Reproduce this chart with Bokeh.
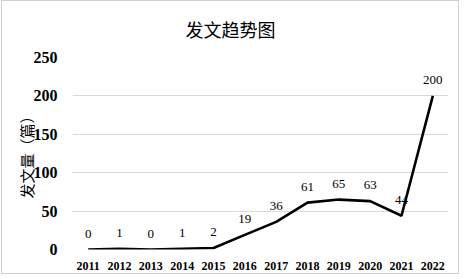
from bokeh.plotting import figure
from bokeh.models import (FactorRange, Range1d, ColumnDataSource, LabelSet,
                          FixedTicker)
from bokeh.embed import file_html
from bokeh.resources import INLINE

years = ["2011", "2012", "2013", "2014", "2015", "2016",
         "2017", "2018", "2019", "2020", "2021", "2022"]
counts = [0, 1, 0, 1, 2, 19, 36, 61, 65, 63, 44, 200]
y_ticks = [0, 50, 100, 150, 200, 250]
title_text = "发文趋势图"
y_label = "发文量（篇）"

SERIF = "'Liberation Serif', 'Times New Roman', serif"
CJK = "'Noto Sans CJK SC', sans-serif"

src = ColumnDataSource(dict(year=years, count=counts,
                            label=[str(c) for c in counts]))

p = figure(width=458, height=274, output_backend="svg", toolbar_location=None,
           x_range=FactorRange(*years, range_padding=0),
           y_range=Range1d(0, 250),
           min_border_left=70, min_border_right=12,
           min_border_top=56, min_border_bottom=26,
           styles={"border": "1.5px solid #d0d0d0", "margin-left": "1px"})

p.title.text = title_text
p.title.align = "left"
p.title.offset = 113
p.title.vertical_align = "top"
p.title.standoff = 28
p.title.text_font = CJK
p.title.text_font_size = "18px"
p.title.text_font_style = "normal"
p.title.text_color = "#000000"

p.outline_line_color = None
p.background_fill_color = "white"
p.border_fill_color = "white"

p.line(x="year", y="count", source=src, line_color="black", line_width=2.6)

labels = LabelSet(x="year", y="count", text="label", source=src,
                  y_offset=12, text_align="center", text_baseline="bottom",
                  text_font=SERIF, text_font_size="13px",
                  text_color="#000000")
p.add_layout(labels)

p.xgrid.grid_line_color = None
p.ygrid.grid_line_color = "#d9d9d9"
p.ygrid.grid_line_width = 1
p.yaxis.ticker = FixedTicker(ticks=y_ticks)

for ax in (p.xaxis[0], p.yaxis[0]):
    ax.axis_line_color = None
    ax.major_tick_line_color = None
    ax.minor_tick_line_color = None
    ax.major_label_text_color = "#000000"
    ax.major_label_text_font = SERIF

p.xaxis.major_label_text_font_size = "12px"
p.xaxis.major_label_text_font_style = "bold"
p.xaxis.major_label_standoff = 6
p.yaxis.major_label_text_font_size = "16px"
p.yaxis.major_label_text_font_style = "bold"
p.yaxis.major_label_standoff = 9
p.yaxis.axis_label = y_label
p.yaxis.axis_label_text_font = CJK
p.yaxis.axis_label_text_font_size = "15px"
p.yaxis.axis_label_text_font_style = "normal"
p.yaxis.axis_label_text_color = "#000000"
p.yaxis.axis_label_standoff = -6

open("out.html", "w").write(file_html(p, INLINE))
